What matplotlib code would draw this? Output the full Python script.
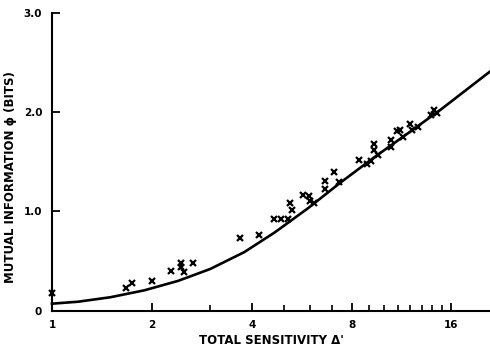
import matplotlib
matplotlib.use('Agg')
from matplotlib import pyplot as plt
from matplotlib.ticker import FixedLocator, NullFormatter

# Theoretical curve (d' vs bits).
curveD = [1.0, 1.2, 1.5, 1.9, 2.4, 3.0, 3.8, 4.7, 5.9, 7.4, 9.4,
          11.8, 14.9, 20.9]
curveBits = [0.07, 0.09, 0.135, 0.205, 0.30, 0.42, 0.59, 0.79, 1.03,
             1.29, 1.55, 1.785, 2.03, 2.41]

# Observed points.
obsD = [1.0, 1.67, 1.74, 2.0, 2.28, 2.45, 2.45, 2.5, 2.67, 3.69, 4.21,
        4.67, 4.9, 5.14, 5.22, 5.3, 5.7, 5.96, 6.0, 6.17, 6.65, 6.65, 7.07,
        7.35, 8.45, 8.93, 9.16, 9.37, 9.37, 9.6, 10.48, 10.48, 10.95, 11.2,
        11.4, 11.96, 12.2, 12.66, 13.9, 14.2, 14.5]
obsBits = [0.18, 0.225, 0.276, 0.30, 0.40, 0.485, 0.44, 0.39, 0.478, 0.73,
           0.76, 0.92, 0.92, 0.92, 1.08, 1.01, 1.17, 1.16, 1.11, 1.08, 1.31,
           1.23, 1.40, 1.30, 1.515, 1.48, 1.505, 1.68, 1.62, 1.565, 1.72,
           1.65, 1.81, 1.82, 1.75, 1.885, 1.825, 1.85, 1.97, 2.02, 1.99]

xMajor = [1, 2, 4, 8, 16]
xMajorLabels = ['1', '2', '4', '8', '16']
xMinor = [3, 5, 6, 7, 9, 10, 11, 12, 13, 14, 15]
yTicks = [0, 1, 2, 3]
yTickLabels = ['0', '1.0', '2.0', '3.0']

if __name__ == '__main__':
  fig = plt.figure(figsize=(4.9, 3.51), dpi=100)
  ax = fig.add_axes([0.106, 0.115, 0.894, 0.848])

  # Curve and data.
  ax.plot(curveD, curveBits, color='black', linewidth=1.9, clip_on=False)
  ax.plot(obsD, obsBits, linestyle='none', marker='x', color='black',
          markersize=4.2, markeredgewidth=1.6, clip_on=False)

  # Axes.
  ax.set_xscale('log', base=2)
  ax.set_xlim(1, 20.9)
  ax.set_ylim(0, 3.0)
  ax.xaxis.set_major_locator(FixedLocator(xMajor))
  ax.set_xticklabels(xMajorLabels)
  ax.xaxis.set_minor_locator(FixedLocator(xMinor))
  ax.xaxis.set_minor_formatter(NullFormatter())
  ax.set_yticks(yTicks)
  ax.set_yticklabels(yTickLabels)

  for side in ['top', 'right']:
    ax.spines[side].set_visible(False)
  for side in ['left', 'bottom']:
    ax.spines[side].set_linewidth(1.5)

  ax.tick_params(which='major', direction='in', length=6, width=1.3,
                 labelsize=7.5, pad=7)
  ax.tick_params(which='minor', direction='in', length=4, width=1.2)
  for lab in ax.get_xticklabels() + ax.get_yticklabels():
    lab.set_fontweight('bold')

  ax.set_xlabel("TOTAL SENSITIVITY \u0394'", fontsize=8.5, fontweight='bold')
  ax.set_ylabel('MUTUAL INFORMATION \u03d5 (BITS)', fontsize=8.5,
                fontweight='bold')
  ax.xaxis.set_label_coords(0.5, -0.078)
  ax.yaxis.set_label_coords(-0.08, 0.45)

  fig.savefig('out.png', dpi=100)
